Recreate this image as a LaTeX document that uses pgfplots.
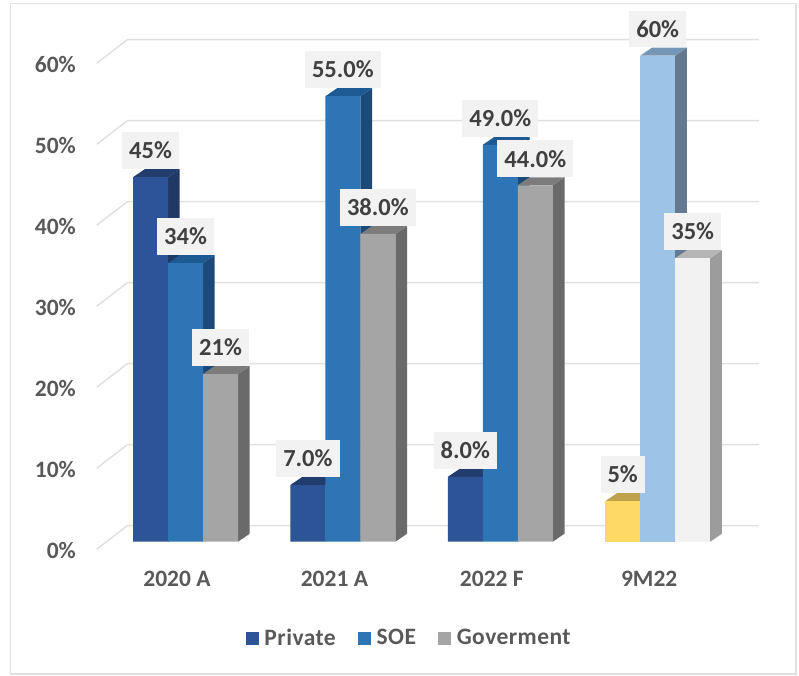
\documentclass[border=0pt]{standalone}
\usepackage{pgfplots}
\pgfplotsset{compat=1.18}
\usepackage{fontspec}
\setmainfont{Carlito}
\newfontfamily\legfont{Carlito}[LetterSpace=2]
\definecolor{pF}{HTML}{2C5496}\definecolor{pT}{HTML}{223C6E}\definecolor{pS}{HTML}{1F3864}
\definecolor{sF}{HTML}{2E75B6}\definecolor{sT}{HTML}{1D5A94}\definecolor{sS}{HTML}{1C4A78}
\definecolor{gF}{HTML}{A5A5A5}\definecolor{gT}{HTML}{7C7C7C}\definecolor{gS}{HTML}{6A6A6A}
\definecolor{yF}{HTML}{FFD966}\definecolor{yT}{HTML}{BFA24C}\definecolor{yS}{HTML}{A89048}
\definecolor{lF}{HTML}{9DC3E6}\definecolor{lT}{HTML}{7596B5}\definecolor{lS}{HTML}{64798F}
\definecolor{wF}{HTML}{F2F2F2}\definecolor{wT}{HTML}{B5B5B5}\definecolor{wS}{HTML}{9C9C9C}
\definecolor{gridc}{HTML}{E0E0E0}
\definecolor{boxc}{HTML}{F2F2F2}
\definecolor{tickc}{HTML}{595959}
\definecolor{labc}{HTML}{404040}
% top and side faces of one bar: group, series (0,1,2), value, top colour, side colour
\newcommand{\faces}[5]{%
  \pgfmathsetmacro{\Xa}{#1+(-44+35*#2)/157.4}%
  \pgfmathsetmacro{\Xb}{#1+(-9+35*#2)/157.4}%
  \pgfmathsetmacro{\Xc}{\Xa+11.7/157.4}%
  \pgfmathsetmacro{\Xd}{\Xb+11.7/157.4}%
  \pgfmathsetmacro{\Yt}{#3+0.988}%
  \addplot[fill=#5,draw=none,forget plot] coordinates {(\Xb,0) (\Xd,0.988) (\Xd,\Yt) (\Xb,#3)} --cycle;
  \addplot[fill=#4,draw=none,forget plot] coordinates {(\Xa,#3) (\Xb,#3) (\Xd,\Yt) (\Xc,\Yt)} --cycle;
}
\newcommand{\gridlev}[2]{% front value, wall value
  \addplot[gridc,line width=1.5pt,forget plot] coordinates {(-0.5102,#1) (-0.3158,#2) (3.6976,#2)};
}
\pgfplotsset{
  lab/.style={draw=none,mark=none,forget plot,point meta=explicit symbolic,nodes near coords,
    nodes near coords style={anchor=center,yshift=26.6pt,xshift=#1,fill=boxc,text=labc,
      font=\fontsize{24.5}{25}\selectfont\bfseries,minimum height=36.7pt,inner xsep=7pt,inner ysep=0pt}},
  bar3/.style n args={2}{ybar,bar width=35pt,bar shift=#1,fill=#2,draw=none},
}
\begin{document}
\begin{tikzpicture}
\path[use as bounding box] (-96.7pt,-125.7pt) rectangle (702.3pt,549.3pt);
\draw[gridc,line width=1.5pt] (-86.2pt,-124.7pt) rectangle (699.3pt,546pt);
\begin{axis}[
  scale only axis,width=662.3pt,height=509.8pt,
  xmin=-0.5102,xmax=3.6976,ymin=-0.938,ymax=62,
  clip=false,
  axis line style={draw=none},
  major tick length=0pt,
  xtick={0,1,2,3},xticklabels={2020 A,2021 A,2022 F,9M22},
  ytick={0,10,20,30,40,50,60},yticklabels={0\%,10\%,20\%,30\%,40\%,50\%,60\%},
  tick label style={text=tickc,font=\fontsize{23.5}{24}\selectfont\bfseries,inner sep=0pt},
  xticklabel style={anchor=center,yshift=-29.4pt},
  yticklabel style={anchor=east,xshift=-20.7pt,yshift=-8.6pt},
  legend columns=3,
  legend image code/.code={\fill[#1] (0pt,-6.5pt) rectangle (13pt,6.5pt);\path (16.3pt,0pt);},
  legend style={at={(axis description cs:0.2254,-0.174)},anchor=west,draw=none,fill=none,inner sep=0pt,
    text=tickc,font=\fontsize{23.5}{24}\legfont\selectfont\bfseries,
    /tikz/every even column/.append style={column sep=20.5pt}},
]
\gridlev{-0.938}{1.975}
\gridlev{9.062}{11.975}
\gridlev{19.062}{21.975}
\gridlev{29.062}{31.975}
\gridlev{39.062}{41.975}
\gridlev{49.062}{51.975}
\gridlev{59.062}{61.975}
% Private
\faces{0}{0}{45}{pT}{pS}\faces{1}{0}{7}{pT}{pS}\faces{2}{0}{8}{pT}{pS}\faces{3}{0}{5}{yT}{yS}
\addplot[bar3={-26.5pt}{pF}] coordinates {(0,45) (1,7) (2,8)};
\addlegendentry{Private}
\addplot[bar3={-26.5pt}{yF},forget plot] coordinates {(3,5)};
% SOE
\faces{0}{1}{34.4}{sT}{sS}\faces{1}{1}{55}{sT}{sS}\faces{2}{1}{49}{sT}{sS}\faces{3}{1}{60}{lT}{lS}
\addplot[bar3={8.5pt}{sF}] coordinates {(0,34.4) (1,55) (2,49)};
\addlegendentry{SOE}
\addplot[bar3={8.5pt}{lF},forget plot] coordinates {(3,60)};
% Goverment
\faces{0}{2}{20.7}{gT}{gS}\faces{1}{2}{38}{gT}{gS}\faces{2}{2}{44}{gT}{gS}\faces{3}{2}{35}{wT}{wS}
\addplot[bar3={43.5pt}{gF}] coordinates {(0,20.7) (1,38) (2,44)};
\addlegendentry{Goverment}
\addplot[bar3={43.5pt}{wF},forget plot] coordinates {(3,35)};
% data labels, on top of every bar
\addplot[lab=-26.5pt] coordinates {(0,45) [45\%] (1,7) [7.0\%] (2,8) [8.0\%] (3,5) [5\%]};
\addplot[lab=8.5pt] coordinates {(0,34.4) [34\%] (1,55) [55.0\%] (2,49) [49.0\%] (3,60) [60\%]};
\addplot[lab=43.5pt] coordinates {(0,20.7) [21\%] (1,38) [38.0\%] (2,44) [44.0\%] (3,35) [35\%]};
\end{axis}
\end{tikzpicture}
\end{document}
